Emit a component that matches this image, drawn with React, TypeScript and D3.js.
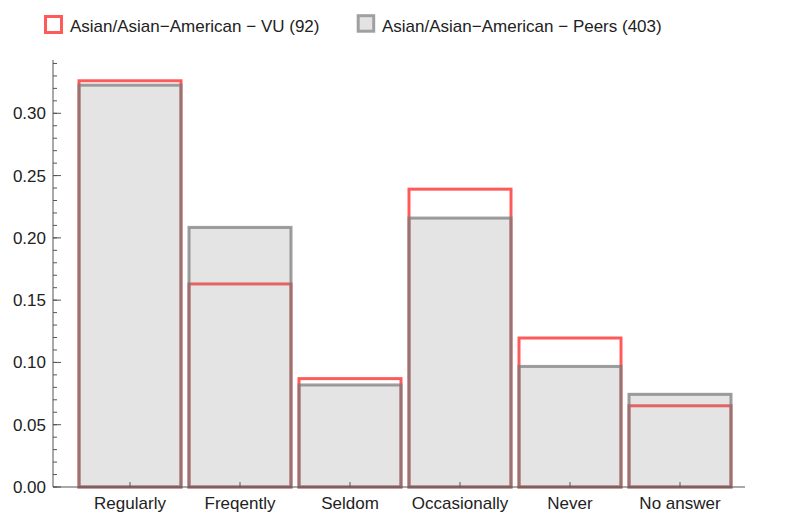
import React from "react";
import * as d3 from "d3";

const categories = ["Regularly", "Freqently", "Seldom", "Occasionally", "Never", "No answer"];
const vuValues = [0.3261, 0.1630, 0.0870, 0.2391, 0.1196, 0.0652];
const peerValues = [0.3226, 0.2084, 0.0819, 0.2159, 0.0968, 0.0744];
const yTicks = [0, 0.05, 0.1, 0.15, 0.2, 0.25, 0.3];
const legendLabels = ["Asian/Asian\u2212American \u2212 VU (92)", "Asian/Asian\u2212American \u2212 Peers (403)"];

const W = 785, H = 519;
const axisX = 53, axisY = 487;
const font = "'Liberation Sans', Arial, sans-serif";

export default function App() {
  const x = d3.scaleBand<string>().domain(categories).range([75, 735]).padding(0);
  const y = d3.scaleLinear().domain([0, 0.3]).range([487, 113.3]);
  const minor = d3.range(0, 0.345, 0.01);
  const inset = 4;
  const bw = x.bandwidth() - inset * 2;
  const red = "#ff5a5a";
  const grayFill = "rgba(130,130,130,0.22)";
  const grayStroke = "rgba(120,120,120,0.72)";
  return (
    <svg width={W} height={H} style={{ position: "absolute", left: 0, top: 0, background: "#fff" }}>
      {/* legend */}
      <rect x={45.5} y={16.5} width={16} height={16} fill="#fff" stroke={red} strokeWidth={3} />
      <text x={70} y={31.5} fontFamily={font} fontSize={17} fill="#222">{legendLabels[0]}</text>
      <rect x={358.2} y={15.7} width={15.5} height={15.5} fill="#e3e3e3" stroke="#a0a0a0" strokeWidth={3} />
      <text x={382} y={31.5} fontFamily={font} fontSize={17} fill="#222">{legendLabels[1]}</text>

      {/* red bars (VU) */}
      {categories.map((c, i) => (
        <rect key={"r" + c} x={x(c)! + inset} y={y(vuValues[i])} width={bw} height={y(0) - y(vuValues[i])}
          fill="#fff" stroke={red} strokeWidth={3} />
      ))}
      {/* gray bars (Peers) */}
      {categories.map((c, i) => (
        <rect key={"g" + c} x={x(c)! + inset} y={y(peerValues[i])} width={bw} height={y(0) - y(peerValues[i])}
          fill={grayFill} stroke={grayStroke} strokeWidth={3} />
      ))}

      {/* y axis */}
      <line x1={axisX} x2={axisX} y1={60} y2={axisY} stroke="#555" strokeWidth={1} />
      {minor.map((v) => (
        <line key={"m" + v} x1={axisX} x2={axisX + 4} y1={y(v)} y2={y(v)} stroke="#555" strokeWidth={1} />
      ))}
      {yTicks.map((v) => (
        <g key={"t" + v}>
          <line x1={axisX} x2={axisX + 8} y1={y(v)} y2={y(v)} stroke="#555" strokeWidth={1} />
          <text x={46} y={y(v) + 6} textAnchor="end" fontFamily={font} fontSize={17} fill="#222">{v.toFixed(2)}</text>
        </g>
      ))}

      {/* x axis */}
      <line x1={axisX} x2={745} y1={axisY} y2={axisY} stroke="#555" strokeWidth={1} />
      {categories.map((c) => (
        <g key={"x" + c}>
          <line x1={x(c)! + x.bandwidth() / 2} x2={x(c)! + x.bandwidth() / 2} y1={axisY} y2={axisY - 5} stroke="#555" strokeWidth={1} />
          <text x={x(c)! + x.bandwidth() / 2} y={508.5} textAnchor="middle" fontFamily={font} fontSize={17} fill="#222">{c}</text>
        </g>
      ))}
    </svg>
  );
}
